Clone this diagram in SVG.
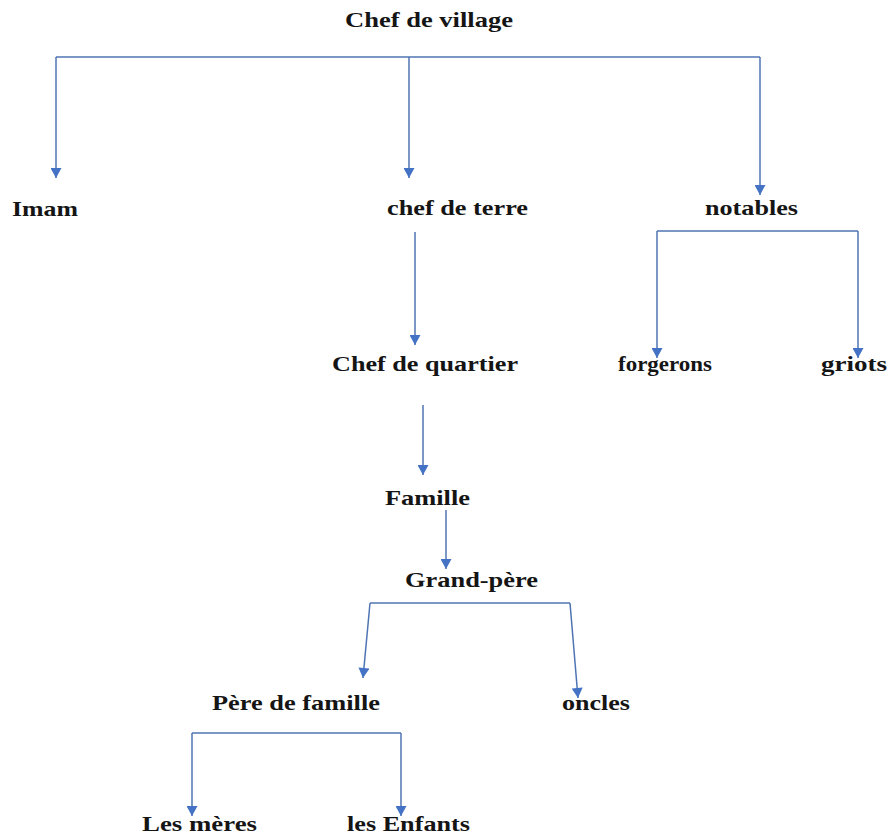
<svg xmlns="http://www.w3.org/2000/svg" width="891" height="836" viewBox="0 0 891 836">
<style>
  text { font-family: "Liberation Serif", "Times New Roman", serif; font-weight: bold; font-size: 21px; fill: #151515; }
  .c { fill: none; stroke: #4f74b3; stroke-width: 1.5; marker-end: url(#ah); }
  .b { fill: none; stroke: #4f74b3; stroke-width: 1.5; }
</style>
<defs>
  <marker id="ah" markerUnits="userSpaceOnUse" markerWidth="11" markerHeight="11" viewBox="0 0 10 11" refX="10" refY="5.5" orient="auto">
    <path d="M0,0 L10,5.5 L0,11 Z" fill="#4472c4"/>
  </marker>
</defs>
<rect width="891" height="836" fill="#ffffff"/>
<g id="connectors">
  <path class="b" d="M56,57 H760"/>
  <path class="c" d="M56,57 V178"/>
  <path class="c" d="M409,57 V178"/>
  <path class="c" d="M760,57 V195"/>
  <path class="c" d="M415,232 V345"/>
  <path class="b" d="M657,231 H858"/>
  <path class="c" d="M657,231 V358"/>
  <path class="c" d="M858,231 V358"/>
  <path class="c" d="M423,405 V475"/>
  <path class="c" d="M446,510 V569"/>
  <path class="b" d="M370,603 H570"/>
  <path class="c" d="M370,603 L363,678"/>
  <path class="c" d="M570,603 L578,698"/>
  <path class="b" d="M192,733 H401"/>
  <path class="c" d="M192,733 V816"/>
  <path class="c" d="M401,733 V816"/>
</g>
<g id="chef-de-village"><text x="345" y="27" textLength="168" lengthAdjust="spacingAndGlyphs">Chef de village</text></g>
<g id="imam"><text x="12" y="216" textLength="66" lengthAdjust="spacingAndGlyphs">Imam</text></g>
<g id="chef-de-terre"><text x="387" y="215" textLength="141" lengthAdjust="spacingAndGlyphs">chef de terre</text></g>
<g id="notables"><text x="705" y="215" textLength="93" lengthAdjust="spacingAndGlyphs">notables</text></g>
<g id="chef-de-quartier"><text x="332" y="371" textLength="186" lengthAdjust="spacingAndGlyphs">Chef de quartier</text></g>
<g id="forgerons"><text x="618" y="371" textLength="94" lengthAdjust="spacingAndGlyphs">forgerons</text></g>
<g id="griots"><text x="821" y="371" textLength="66" lengthAdjust="spacingAndGlyphs">griots</text></g>
<g id="famille"><text x="385" y="505" textLength="85" lengthAdjust="spacingAndGlyphs">Famille</text></g>
<g id="grand-pere"><text x="405" y="587" textLength="133" lengthAdjust="spacingAndGlyphs">Grand-père</text></g>
<g id="pere-de-famille"><text x="212" y="710" textLength="168" lengthAdjust="spacingAndGlyphs">Père de famille</text></g>
<g id="oncles"><text x="562" y="710" textLength="68" lengthAdjust="spacingAndGlyphs">oncles</text></g>
<g id="les-meres"><text x="142" y="831" textLength="115" lengthAdjust="spacingAndGlyphs">Les mères</text></g>
<g id="les-enfants"><text x="347" y="831" textLength="123" lengthAdjust="spacingAndGlyphs">les Enfants</text></g>
</svg>
